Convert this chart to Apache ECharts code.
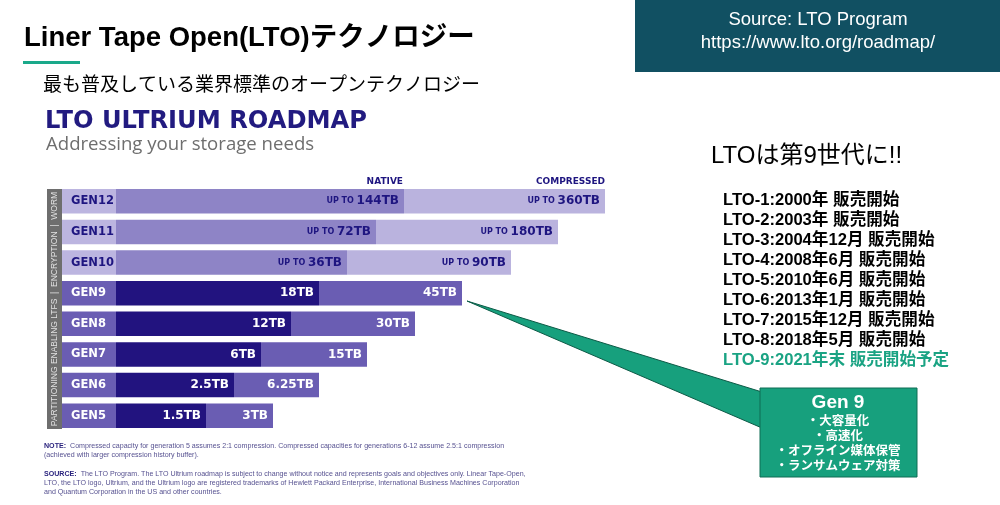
<!DOCTYPE html>
<html><head><meta charset="utf-8">
<script src="https://cdn.jsdelivr.net/npm/echarts@6/dist/echarts.min.js"></script>
<style>html,body{margin:0;padding:0;background:#fff}#c{width:1000px;height:505px}</style>
</head><body><div id="c"></div>
<script>
// ---- data ----
const generations = ['GEN5','GEN6','GEN7','GEN8','GEN9','GEN10','GEN11','GEN12'];
const nativeCapacity = ['1.5TB','2.5TB','6TB','12TB','18TB','36TB','72TB','144TB'];
const compressedCapacity = ['3TB','6.25TB','15TB','30TB','45TB','90TB','180TB','360TB'];
const isFuture = [false,false,false,false,false,true,true,true];
// bar lengths as drawn in the roadmap graphic (the roadmap is not drawn to scale)
const nativeBarLength = [90,118,145,175,203,231,260,288];
const compressedBarLength = [157,203,251,299,346,395,442,489];
const releaseLines = ['LTO-1:2000年 販売開始','LTO-2:2003年 販売開始','LTO-3:2004年12月 販売開始','LTO-4:2008年6月 販売開始','LTO-5:2010年6月 販売開始','LTO-6:2013年1月 販売開始','LTO-7:2015年12月 販売開始','LTO-8:2018年5月 販売開始','LTO-9:2021年末 販売開始予定'];
const gen9Features = ['・大容量化','・高速化','・オフライン媒体保管','・ランサムウェア対策'];

const JP = "'Liberation Sans','Noto Sans CJK JP',sans-serif";
const HV = "'DejaVu Sans',sans-serif";
const C = {
  relNative:'#22137f', relComp:'#6a5db3', futNative:'#8e84c6', futComp:'#bab3de', futCell:'#bcb5e0', navy:'#1e1580'
};

function valRich(){
  return {
    w:{color:'#fff',fontFamily:HV,fontWeight:'bold',fontSize:12},
    s:{color:C.navy,fontFamily:HV,fontWeight:'bold',fontSize:8},
    f:{color:C.navy,fontFamily:HV,fontWeight:'bold',fontSize:12}
  };
}

const graphic = [];
// source box
graphic.push({type:'rect',shape:{x:635,y:0,width:365,height:72},style:{fill:'#115062'}});
graphic.push({type:'text',style:{text:'Source: LTO Program',x:818,y:20,align:'center',verticalAlign:'middle',textAlign:'center',textVerticalAlign:'middle',fill:'#fff',fontSize:18.5,fontFamily:JP}});
graphic.push({type:'text',style:{text:'https://www.lto.org/roadmap/',x:818,y:43,align:'center',verticalAlign:'middle',textAlign:'center',textVerticalAlign:'middle',fill:'#fff',fontSize:18.5,fontFamily:JP}});
// titles
graphic.push({type:'text',style:{text:'Liner Tape Open(LTO)テクノロジー',x:24,y:38,verticalAlign:'middle',textVerticalAlign:'middle',fill:'#000',fontSize:27.5,fontWeight:'bold',fontFamily:JP}});
graphic.push({type:'rect',shape:{x:23,y:61,width:57,height:3},style:{fill:'#1aa98a'}});
graphic.push({type:'text',style:{text:'最も普及している業界標準のオープンテクノロジー',x:43,y:86,verticalAlign:'middle',textVerticalAlign:'middle',fill:'#000',fontSize:19,fontFamily:JP}});
graphic.push({type:'text',style:{text:'LTO ULTRIUM ROADMAP',x:45,y:122,verticalAlign:'middle',textVerticalAlign:'middle',fill:'#221b80',fontSize:24.2,fontWeight:'bold',fontFamily:HV}});
graphic.push({type:'text',style:{text:'Addressing your storage needs',x:46,y:145,verticalAlign:'middle',textVerticalAlign:'middle',fill:'#6e6e6e',fontSize:18.6,fontFamily:"'Open Sans',sans-serif"}});
// column headers
graphic.push({type:'text',style:{text:'NATIVE',x:403,y:182,align:'right',verticalAlign:'middle',textAlign:'right',textVerticalAlign:'middle',fill:C.navy,fontSize:9,fontWeight:'bold',fontFamily:HV}});
graphic.push({type:'text',style:{text:'COMPRESSED',x:605,y:182,align:'right',verticalAlign:'middle',textAlign:'right',textVerticalAlign:'middle',fill:C.navy,fontSize:9,fontWeight:'bold',fontFamily:HV}});
// side strip
graphic.push({type:'rect',shape:{x:47,y:189,width:15,height:240},style:{fill:'#6e6e6e'}});
graphic.push({type:'text',x:54.5,y:309,rotation:Math.PI/2,style:{text:'PARTITIONING ENABLING LTFS  |  ENCRYPTION  |  WORM',x:0,y:0,align:'center',verticalAlign:'middle',textAlign:'center',textVerticalAlign:'middle',fill:'#e2e2e2',fontSize:8.5,fontFamily:JP}});
// right side text
graphic.push({type:'text',style:{text:'LTOは第9世代に!!',x:711,y:156,verticalAlign:'middle',textVerticalAlign:'middle',fill:'#000',fontSize:24,fontFamily:JP}});
releaseLines.forEach((t,i)=>{
  graphic.push({type:'text',style:{text:t,x:723,y:200+i*20.1,verticalAlign:'middle',textVerticalAlign:'middle',fill: i===releaseLines.length-1?'#1aa383':'#000',fontSize:16.6,fontWeight:'bold',fontFamily:JP}});
});
// callout
graphic.push({type:'polygon',shape:{points:[[467,301],[762,392],[762,428]]},style:{fill:'#17a07d',stroke:'#0c5a46',lineWidth:1}});
graphic.push({type:'rect',shape:{x:760,y:388,width:157,height:89},style:{fill:'#17a07d',stroke:'#0f6d54',lineWidth:1}});
graphic.push({type:'text',style:{text:'Gen 9',x:838,y:403,align:'center',verticalAlign:'middle',textAlign:'center',textVerticalAlign:'middle',fill:'#fff',fontSize:19,fontWeight:'bold',fontFamily:JP}});
gen9Features.forEach((t,i)=>{
  graphic.push({type:'text',style:{text:t,x:838,y:422+i*14.7,align:'center',verticalAlign:'middle',textAlign:'center',textVerticalAlign:'middle',fill:'#fff',fontSize:12.5,fontWeight:'bold',fontFamily:JP}});
});
// footnotes
const fnRich = {b:{fontWeight:'bold',fill:'#2a237e',fontSize:7.1,fontFamily:JP}};
const fnStyle = {fill:'#565190',fontSize:7.1,fontFamily:JP,rich:fnRich,lineHeight:9.2,verticalAlign:'top',textVerticalAlign:'top'};
graphic.push({type:'text',style:Object.assign({text:'{b|NOTE:}  Compressed capacity for generation 5 assumes 2:1 compression. Compressed capacities for generations 6-12 assume 2.5:1 compression\n(achieved with larger compression history buffer).',x:44,y:441},fnStyle)});
graphic.push({type:'text',style:Object.assign({text:'{b|SOURCE:}  The LTO Program. The LTO Ultrium roadmap is subject to change without notice and represents goals and objectives only. Linear Tape-Open,\nLTO, the LTO logo, Ultrium, and the Ultrium logo are registered trademarks of Hewlett Packard Enterprise, International Business Machines Corporation\nand Quantum Corporation in the US and other countries.',x:44,y:469},fnStyle)});

const option = {
  animation:false,
  backgroundColor:'#fff',
  grid:{left:116,top:186,width:500,height:245},
  xAxis:{type:'value',min:0,max:500,show:false},
  yAxis:{type:'category',data:generations,axisLine:{show:false},axisTick:{show:false},splitLine:{show:false},
    axisLabel:{margin:0,
      formatter:(v,i)=> isFuture[i] ? '{f|'+v+'}' : '{r|'+v+'}',
      rich:{
        f:{backgroundColor:C.futCell,color:C.navy,align:'left',width:45,height:24.5,lineHeight:24.5,padding:[0,0,0,9],fontFamily:HV,fontWeight:'bold',fontSize:11.5},
        r:{backgroundColor:C.relComp,color:'#fff',align:'left',width:45,height:24.5,lineHeight:24.5,padding:[0,0,0,9],fontFamily:HV,fontWeight:'bold',fontSize:11.5}
      }}},
  series:[
    {type:'bar',name:'Native',stack:'cap',barWidth:24.5,
      data:nativeBarLength.map((v,i)=>({value:v,itemStyle:{color:isFuture[i]?C.futNative:C.relNative}})),
      label:{show:true,position:'insideRight',distance:5,
        formatter:p=> isFuture[p.dataIndex] ? '{s|UP TO }{f|'+nativeCapacity[p.dataIndex]+'}' : '{w|'+nativeCapacity[p.dataIndex]+'}',
        rich:valRich()}},
    {type:'bar',name:'Compressed',stack:'cap',barWidth:24.5,
      data:compressedBarLength.map((v,i)=>({value:v-nativeBarLength[i],itemStyle:{color:isFuture[i]?C.futComp:C.relComp}})),
      label:{show:true,position:'insideRight',distance:5,
        formatter:p=> isFuture[p.dataIndex] ? '{s|UP TO }{f|'+compressedCapacity[p.dataIndex]+'}' : '{w|'+compressedCapacity[p.dataIndex]+'}',
        rich:valRich()}}
  ],
  graphic:graphic
};
const chart = echarts.init(document.getElementById('c'),null,{renderer:'canvas'});
chart.setOption(option);
</script></body></html>
